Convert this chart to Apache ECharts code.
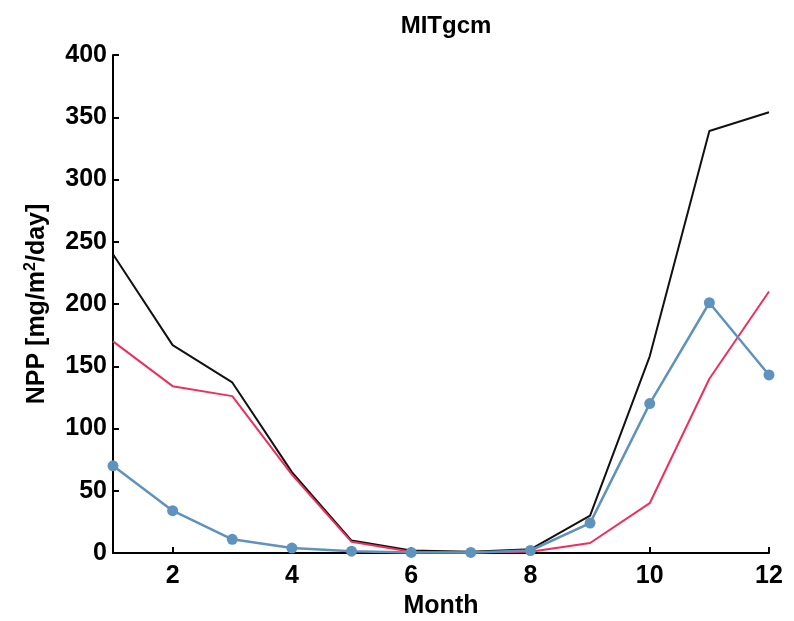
<!DOCTYPE html>
<html>
<head>
<meta charset="utf-8">
<script src="https://cdn.jsdelivr.net/npm/echarts@6/dist/echarts.min.js"></script>
<style>
  html, body { margin: 0; padding: 0; background: #ffffff; }
  #chart { width: 794px; height: 621px; }
</style>
</head>
<body>
<div id="chart"></div>
<script>
// Monthly net primary production (mg/m^2/day)
const months = [1, 2, 3, 4, 5, 6, 7, 8, 9, 10, 11, 12];
const nppBlack = [240, 167, 137, 65, 10, 2, 1, 3, 30, 158, 339, 354];
const nppRed = [170, 134, 126, 63, 9, 1, 0.5, 1, 8, 40, 140, 210];
const nppBlue = [70, 34, 11, 4, 1.5, 0.5, 0.5, 2, 24, 120, 201, 143];
const monthTicks = [2, 4, 6, 8, 10, 12];

const pairs = (ys) => months.map((m, i) => [m, ys[i]]);
const font = 'Liberation Sans, Arial, Helvetica, sans-serif';

const chart = echarts.init(document.getElementById('chart'), null, { renderer: 'canvas' });
chart.setOption({
  animation: false,
  backgroundColor: '#ffffff',
  title: {
    text: 'MITgcm',
    left: 441,
    top: 9,
    textAlign: 'center',
    textStyle: { fontFamily: font, fontSize: 24, fontWeight: 'bold', color: '#000' }
  },
  grid: { left: 113, right: 25, top: 55, bottom: 68, containLabel: false, outerBoundsMode: 'none' },
  xAxis: {
    type: 'value',
    min: 1,
    max: 12,
    name: 'Month',
    nameLocation: 'middle',
    nameGap: 37,
    nameTextStyle: { fontFamily: font, fontSize: 25, fontWeight: 'bold', color: '#000' },
    axisLine: { onZero: false, lineStyle: { color: '#000', width: 2 } },
    axisTick: { inside: true, length: 6, customValues: monthTicks, lineStyle: { color: '#000', width: 2 } },
    axisLabel: { customValues: monthTicks, margin: 11, fontFamily: font, fontSize: 25, fontWeight: 'bold', color: '#000' },
    splitLine: { show: false }
  },
  yAxis: {
    type: 'value',
    min: 0,
    max: 400,
    interval: 50,
    name: 'NPP [mg/m{sup|2}/day]',
    nameLocation: 'middle',
    nameGap: 62,
    nameTextStyle: {
      fontFamily: font, fontSize: 25, fontWeight: 'bold', color: '#000',
      rich: {
        sup: { fontFamily: font, fontSize: 16, fontWeight: 'bold', color: '#000', verticalAlign: 'top', padding: [0, 0, 12, 0] }
      }
    },
    axisLine: { show: true, lineStyle: { color: '#000', width: 2 } },
    axisTick: { inside: true, length: 6, lineStyle: { color: '#000', width: 2 } },
    axisLabel: { margin: 6, fontFamily: font, fontSize: 25, fontWeight: 'bold', color: '#000' },
    splitLine: { show: false }
  },
  series: [
    {
      type: 'line',
      data: pairs(nppBlack),
      symbol: 'none',
      lineStyle: { color: '#111111', width: 2 },
      z: 2
    },
    {
      type: 'line',
      data: pairs(nppRed),
      symbol: 'none',
      lineStyle: { color: '#ee2f5c', width: 2 },
      z: 3
    },
    {
      type: 'line',
      data: pairs(nppBlue),
      symbol: 'circle',
      symbolSize: 11,
      itemStyle: { color: '#5f93bd' },
      lineStyle: { color: '#5f93bd', width: 2.5 },
      z: 4
    }
  ]
});
</script>
</body>
</html>
